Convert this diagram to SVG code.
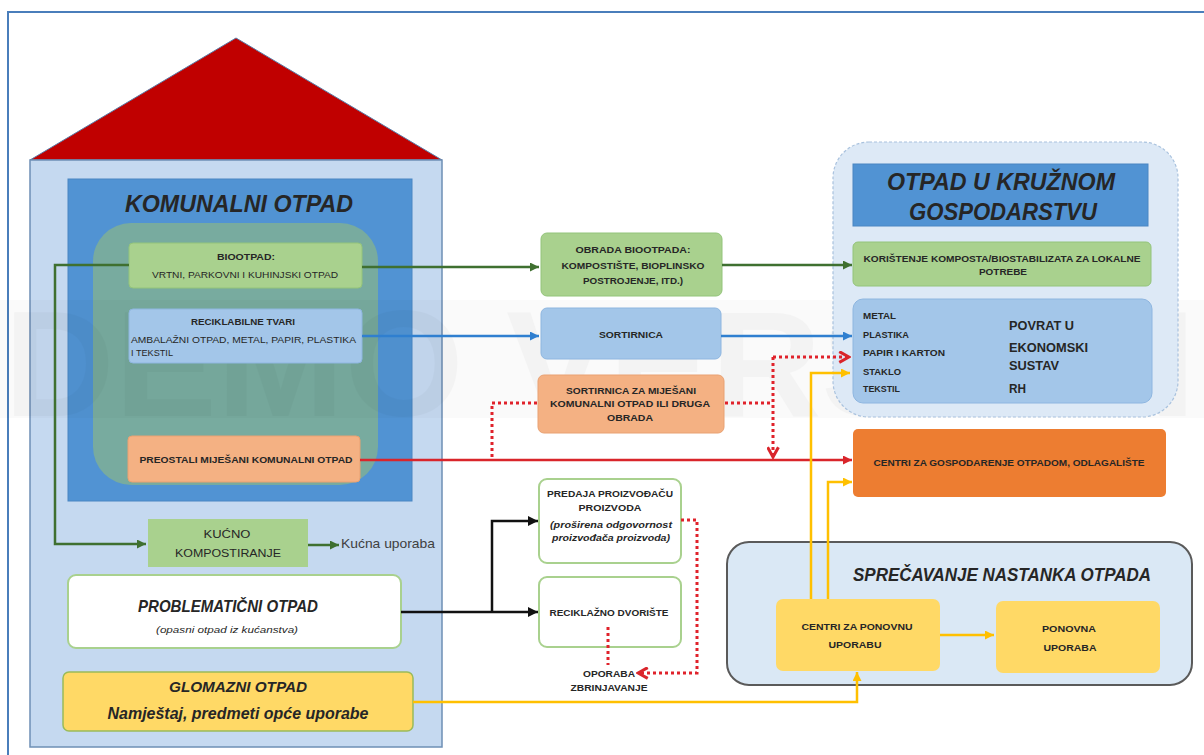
<svg xmlns="http://www.w3.org/2000/svg" width="1204" height="755" viewBox="0 0 1204 755">
<defs>
<style>
text{font-family:"Liberation Sans","DejaVu Sans",sans-serif;fill:#262626;}
.b{font-weight:bold;}
.bi{font-weight:bold;font-style:italic;}
.c{text-anchor:middle;}
.s9{font-size:9px;}
.s10{font-size:10px;}
.s11{font-size:11px;}
.g{fill:#a9d18e;stroke:#93c47a;stroke-width:1;}
.bl{fill:#a3c6e9;stroke:#8eb6e0;stroke-width:1;}
.sa{fill:#f4b183;stroke:#e9a172;stroke-width:1;}
.ye{fill:#ffd966;}
.wh{fill:#ffffff;stroke:#a9d18e;stroke-width:2;}
.ln{fill:none;stroke-width:2.5;}
.dot{fill:none;stroke:#e0222b;stroke-width:3;stroke-dasharray:3 3;}
</style>
<marker id="mg" viewBox="0 0 10 10" refX="10" refY="5" markerWidth="9" markerHeight="9" markerUnits="userSpaceOnUse" orient="auto"><path d="M0,0 L10,5 L0,10 z" fill="#3f7030"/></marker>
<marker id="mb" viewBox="0 0 10 10" refX="10" refY="5" markerWidth="9" markerHeight="9" markerUnits="userSpaceOnUse" orient="auto"><path d="M0,0 L10,5 L0,10 z" fill="#2f7fd0"/></marker>
<marker id="mr" viewBox="0 0 10 10" refX="10" refY="5" markerWidth="9" markerHeight="9" markerUnits="userSpaceOnUse" orient="auto"><path d="M0,0 L10,5 L0,10 z" fill="#d9252b"/></marker>
<marker id="mk" viewBox="0 0 10 10" refX="10" refY="5" markerWidth="10" markerHeight="10" markerUnits="userSpaceOnUse" orient="auto"><path d="M0,0 L10,5 L0,10 z" fill="#111"/></marker>
<marker id="my" viewBox="0 0 10 10" refX="10" refY="5" markerWidth="9" markerHeight="9" markerUnits="userSpaceOnUse" orient="auto"><path d="M0,0 L10,5 L0,10 z" fill="#ffc000"/></marker>
<marker id="mc" viewBox="0 0 12 12" refX="10" refY="6" markerWidth="13" markerHeight="13" markerUnits="userSpaceOnUse" orient="auto"><path d="M1,1 L10,6 L1,11" fill="none" stroke="#d9252b" stroke-width="2.8"/></marker>
</defs>
<rect width="1204" height="755" fill="#ffffff"/>
<path d="M8,755 V12 H1204" fill="none" stroke="#4a7ebb" stroke-width="2"/>

<!-- house -->
<g id="house">
<polygon points="236,38 442,160 30,160" fill="#c00000" stroke="#5b7aa5" stroke-width="1"/>
<rect x="30" y="160" width="412" height="587" fill="#c5d9f0" stroke="#6d8fb5" stroke-width="1.5"/>
</g>
<g id="komunalni">
<rect x="68" y="179" width="344" height="322" fill="#5193d3" stroke="#4a86c2" stroke-width="1"/>
<text class="bi c" x="239" y="212" font-size="23" textLength="228" lengthAdjust="spacingAndGlyphs">KOMUNALNI OTPAD</text>
<rect x="93" y="223" width="285" height="262" rx="38" fill="#78ab9f"/>
</g>

<!-- watermark -->
<rect x="0" y="300" width="1204" height="118" fill="#000" opacity="0.02"/>
<text x="4" y="416" font-size="150" font-weight="bold" opacity="0.022" textLength="1192" lengthAdjust="spacingAndGlyphs" style="fill:#000">DEMO VERSION</text>

<g id="biootpad">
<rect class="g" x="129" y="243" width="233" height="45" rx="4"/>
<text class="b c s9" x="246" y="260" textLength="58" lengthAdjust="spacingAndGlyphs">BIOOTPAD:</text>
<text class="c s9" x="245" y="278" textLength="186" lengthAdjust="spacingAndGlyphs">VRTNI, PARKOVNI I KUHINJSKI OTPAD</text>
</g>
<g id="reciklabilne">
<rect class="bl" x="129" y="309" width="233" height="54" rx="4"/>
<text class="b c s9" x="243" y="325" textLength="104" lengthAdjust="spacingAndGlyphs">RECIKLABILNE TVARI</text>
<text class="s9" x="131" y="343" textLength="225" lengthAdjust="spacingAndGlyphs">AMBALAŽNI OTPAD, METAL, PAPIR, PLASTIKA</text>
<text class="s9" x="131" y="356" textLength="42" lengthAdjust="spacingAndGlyphs">I TEKSTIL</text>
</g>
<g id="preostali">
<rect class="sa" x="128" y="436" width="232" height="46" rx="4"/>
<text class="b c s9" x="246" y="463" textLength="213" lengthAdjust="spacingAndGlyphs">PREOSTALI MIJEŠANI KOMUNALNI OTPAD</text>
</g>
<g id="kucno">
<rect x="148" y="519" width="160" height="48" fill="#a9d18e"/>
<text class="c s10" x="227" y="538" textLength="47" lengthAdjust="spacingAndGlyphs">KUĆNO</text>
<text class="c s10" x="228" y="557" textLength="106" lengthAdjust="spacingAndGlyphs">KOMPOSTIRANJE</text>
</g>
<g id="kucna-uporaba">
<text x="341" y="548" font-size="13" style="fill:#404040" textLength="94" lengthAdjust="spacingAndGlyphs">Kućna uporaba</text>
</g>
<g id="problematicni">
<rect class="wh" x="68" y="575" width="333" height="73" rx="8"/>
<text class="bi c" x="228" y="612" font-size="17" textLength="180" lengthAdjust="spacingAndGlyphs">PROBLEMATIČNI OTPAD</text>
<text class="c" x="227" y="633" font-size="9" font-style="italic" textLength="142" lengthAdjust="spacingAndGlyphs">(opasni otpad iz  kućanstva)</text>
</g>
<g id="glomazni">
<rect x="63" y="672" width="350" height="59" rx="6" fill="#ffd966" stroke="#9bbb59" stroke-width="1.5"/>
<text class="bi c" x="238" y="692" font-size="15" textLength="138" lengthAdjust="spacingAndGlyphs">GLOMAZNI OTPAD</text>
<text class="bi c" x="238" y="719" font-size="16" textLength="261" lengthAdjust="spacingAndGlyphs">Namještaj, predmeti opće uporabe</text>
</g>

<!-- middle column -->
<g id="obrada-biootpada">
<rect class="g" x="541" y="233" width="181" height="63" rx="6"/>
<text class="b c s9" x="633" y="253" textLength="115" lengthAdjust="spacingAndGlyphs">OBRADA BIOOTPADA:</text>
<text class="b c s9" x="633" y="269" textLength="143" lengthAdjust="spacingAndGlyphs">KOMPOSTIŠTE, BIOPLINSKO</text>
<text class="b c s9" x="633" y="284" textLength="100" lengthAdjust="spacingAndGlyphs">POSTROJENJE, ITD.)</text>
</g>
<g id="sortirnica">
<rect class="bl" x="541" y="308" width="180" height="51" rx="6"/>
<text class="b c s9" x="631" y="338" textLength="64" lengthAdjust="spacingAndGlyphs">SORTIRNICA</text>
</g>
<g id="sortirnica-mijesani">
<rect class="sa" x="538" y="375" width="186" height="58" rx="6"/>
<text class="b c s9" x="631" y="394" textLength="130" lengthAdjust="spacingAndGlyphs">SORTIRNICA ZA MIJEŠANI</text>
<text class="b c s9" x="630" y="407" textLength="160" lengthAdjust="spacingAndGlyphs">KOMUNALNI OTPAD ILI DRUGA</text>
<text class="b c s9" x="630" y="421" textLength="46" lengthAdjust="spacingAndGlyphs">OBRADA</text>
</g>
<g id="predaja">
<rect class="wh" x="539" y="479" width="142" height="84" rx="8"/>
<text class="b c s9" x="610" y="497" textLength="126" lengthAdjust="spacingAndGlyphs">PREDAJA PROIZVOĐAČU</text>
<text class="b c s9" x="610" y="511" textLength="63" lengthAdjust="spacingAndGlyphs">PROIZVODA</text>
<text class="bi c s9" x="611" y="528" textLength="122" lengthAdjust="spacingAndGlyphs">(proširena odgovornost</text>
<text class="bi c s9" x="611" y="541" textLength="118" lengthAdjust="spacingAndGlyphs">proizvođača proizvoda)</text>
</g>
<g id="reciklazno">
<rect class="wh" x="539" y="577" width="142" height="70" rx="8"/>
<text class="b c s9" x="609" y="616" textLength="119" lengthAdjust="spacingAndGlyphs">RECIKLAŽNO DVORIŠTE</text>
</g>
<g id="oporaba">
<text class="b c s9" x="609" y="677" textLength="52" lengthAdjust="spacingAndGlyphs">OPORABA</text>
<text class="b c s9" x="609" y="691" textLength="77" lengthAdjust="spacingAndGlyphs">ZBRINJAVANJE</text>
</g>

<!-- right column -->
<g id="kruzno">
<rect x="833" y="142" width="345" height="275" rx="36" fill="#dde9f6" stroke="#a9c2de" stroke-width="1.2" stroke-dasharray="3 2"/>
<rect x="853" y="164" width="295" height="62" fill="#5193d3" stroke="#4a86c2" stroke-width="1"/>
<text class="bi c" x="1001" y="190" font-size="24" textLength="228" lengthAdjust="spacingAndGlyphs">OTPAD U KRUŽNOM</text>
<text class="bi c" x="1003" y="220" font-size="24" textLength="188" lengthAdjust="spacingAndGlyphs">GOSPODARSTVU</text>
</g>
<g id="koristenje">
<rect class="g" x="853" y="242" width="298" height="44" rx="5"/>
<text class="b c s9" x="1002" y="262" textLength="277" lengthAdjust="spacingAndGlyphs">KORIŠTENJE KOMPOSTA/BIOSTABILIZATA ZA LOKALNE</text>
<text class="b c s9" x="1003" y="275" textLength="48" lengthAdjust="spacingAndGlyphs">POTREBE</text>
</g>
<g id="povrat">
<rect class="bl" x="853" y="299" width="299" height="104" rx="10"/>
<text class="b s9" x="863" y="319" textLength="33" lengthAdjust="spacingAndGlyphs">METAL</text>
<text class="b s9" x="863" y="338" textLength="46" lengthAdjust="spacingAndGlyphs">PLASTIKA</text>
<text class="b s9" x="863" y="356" textLength="82" lengthAdjust="spacingAndGlyphs">PAPIR I KARTON</text>
<text class="b s9" x="863" y="375" textLength="38" lengthAdjust="spacingAndGlyphs">STAKLO</text>
<text class="b s9" x="863" y="392" textLength="37" lengthAdjust="spacingAndGlyphs">TEKSTIL</text>
<text class="b" x="1009" y="330" font-size="12" textLength="65" lengthAdjust="spacingAndGlyphs">POVRAT U</text>
<text class="b" x="1009" y="352" font-size="12" textLength="79" lengthAdjust="spacingAndGlyphs">EKONOMSKI</text>
<text class="b" x="1009" y="370" font-size="12" textLength="50" lengthAdjust="spacingAndGlyphs">SUSTAV</text>
<text class="b" x="1009" y="393" font-size="12" textLength="17" lengthAdjust="spacingAndGlyphs">RH</text>
</g>
<g id="centri-gospodarenje">
<rect x="853" y="429" width="313" height="68" rx="5" fill="#ed7d31"/>
<text class="b c s9" x="1009" y="466" textLength="271" lengthAdjust="spacingAndGlyphs">CENTRI ZA GOSPODARENJE OTPADOM, ODLAGALIŠTE</text>
</g>
<g id="sprecavanje">
<rect x="727" y="542" width="465" height="143" rx="22" fill="#dae8f5" stroke="#5a5a5a" stroke-width="2"/>
<text class="bi c" x="1002" y="581" font-size="19" textLength="298" lengthAdjust="spacingAndGlyphs">SPREČAVANJE NASTANKA OTPADA</text>
</g>
<g id="centri-ponovnu">
<rect class="ye" x="776" y="599" width="164" height="72" rx="7"/>
<text class="b c s9" x="857" y="630" textLength="111" lengthAdjust="spacingAndGlyphs">CENTRI ZA PONOVNU</text>
<text class="b c s9" x="855" y="648" textLength="53" lengthAdjust="spacingAndGlyphs">UPORABU</text>
</g>
<g id="ponovna">
<rect class="ye" x="996" y="601" width="164" height="72" rx="7"/>
<text class="b c s9" x="1069" y="632" textLength="54" lengthAdjust="spacingAndGlyphs">PONOVNA</text>
<text class="b c s9" x="1070" y="651" textLength="53" lengthAdjust="spacingAndGlyphs">UPORABA</text>
</g>

<!-- connectors -->
<g id="connectors">
<path class="ln" stroke="#3f7030" d="M129,265 H55 V544 H146" marker-end="url(#mg)"/>
<path class="ln" stroke="#3f7030" d="M362,267 H539" marker-end="url(#mg)"/>
<path class="ln" stroke="#3f7030" d="M722,265 H852" marker-end="url(#mg)"/>
<path class="ln" stroke="#3f7030" d="M308,545 H339" marker-end="url(#mg)"/>
<path class="ln" stroke="#2f7fd0" d="M362,336 H539" marker-end="url(#mb)"/>
<path class="ln" stroke="#2f7fd0" d="M721,336 H852" marker-end="url(#mb)"/>
<path class="ln" stroke="#d9252b" d="M360,460 H852" marker-end="url(#mr)"/>
<path class="dot" d="M537,403 H492 V458"/>
<path class="dot" d="M725,403 H773"/>
<path class="dot" d="M773,357 V457" marker-end="url(#mc)"/>
<path class="dot" d="M773,357 H849" marker-end="url(#mc)"/>
<path class="dot" d="M681,520 H697 V673 H638" marker-end="url(#mc)"/>
<path class="dot" d="M608,627 V665"/>
<path class="ln" stroke="#111" stroke-width="3" d="M401,612 H538" marker-end="url(#mk)"/>
<path class="ln" stroke="#111" stroke-width="3" d="M492,612 V521 H538" marker-end="url(#mk)"/>
<path class="ln" stroke="#ffc000" d="M413,702 H857 V672" marker-end="url(#my)"/>
<path class="ln" stroke="#ffc000" d="M811,599 V373 H850" marker-end="url(#my)"/>
<path class="ln" stroke="#ffc000" d="M828,599 V482 H852" marker-end="url(#my)"/>
<path class="ln" stroke="#ffc000" d="M940,635 H994" marker-end="url(#my)"/>
</g>
</svg>
